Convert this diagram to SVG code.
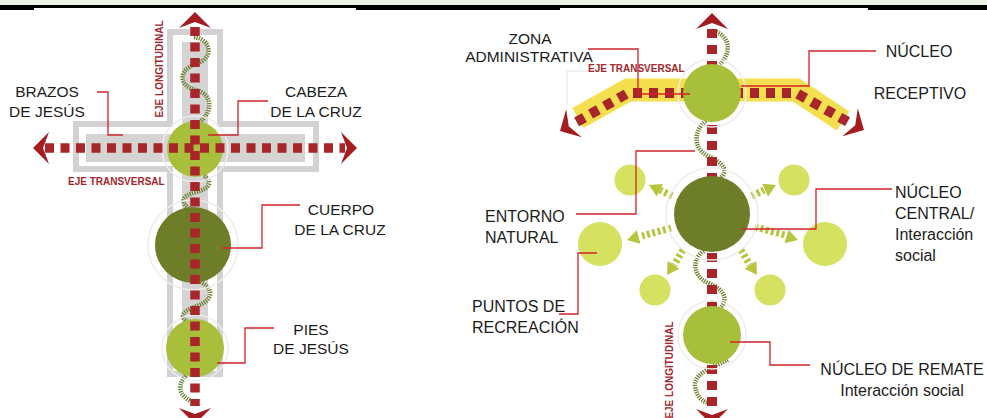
<svg xmlns="http://www.w3.org/2000/svg" width="987" height="418" viewBox="0 0 987 418">
<defs>
<style>
.t{font-family:"Liberation Sans",Arial,sans-serif;fill:#1c1c1c}
.ax{font-family:"Liberation Sans",Arial,sans-serif;font-weight:bold;font-size:10px;fill:#a3282d}
.lead{fill:none;stroke:#d3232b;stroke-width:1.3}
.red{fill:none;stroke:#a8252a;stroke-width:9.5;stroke-dasharray:9 6.5}
.wave{fill:none;stroke:#6d8230;stroke-width:4.5;stroke-dasharray:1.3 1.1}
.halo{fill:none;stroke:#ededed;stroke-width:1.5}
.sat{fill:#d5e160}
.sarr{fill:none;stroke:#b7c53e;stroke-width:7;stroke-dasharray:3 2.5}
.lg{fill:#a8bf3b}
.dk{fill:#6e7d27}
</style>
<path id="ah" d="M0,0 L-16,-16 L-10,0 L-16,16 Z" fill="#a51c20"/>
<path id="sh" d="M0,0 L-12,-7 L-12,7 Z" fill="#b7c53e"/>
</defs>
<rect x="0" y="0" width="987" height="418" fill="#ffffff"/>
<rect x="0" y="0" width="987" height="5" fill="#eef4e4"/>
<rect x="0" y="5" width="987" height="3" fill="#000"/>
<rect x="0" y="8" width="34" height="2" fill="#000"/>
<rect x="356" y="8" width="204" height="2" fill="#000"/>
<rect x="868" y="8" width="119" height="2" fill="#000"/>

<!-- LEFT DIAGRAM -->
<g id="cross-shape">
<polygon points="170,32 220,32 220,124 316,124 316,169 220,169 220,374 170,374 170,169 76,169 76,124 170,124" fill="#fff" stroke="#d2d2d2" stroke-width="6"/>
<polygon points="182,42 208,42 208,134 305,134 305,162 208,162 208,366 182,366 182,162 86,162 86,134 182,134" fill="#d4d4d4"/>
</g>
<g id="left-waves">
<path class="wave" d="M194,37 C212,40 214,58 196,64 C178,70 178,86 196,90 C214,95 212,112 201,121"/>
<path class="wave" d="M204,176 C213,181 210,189 196,192 C180,196 180,204 192,210"/>
<path class="wave" d="M200,282 C214,288 214,300 197,306 C180,312 180,318 188,322"/>
<path class="wave" d="M186,376 C176,386 180,396 191,401"/>
</g>
<g id="cabeza">
<circle class="halo" cx="195" cy="149" r="33"/>
<circle class="lg" cx="195" cy="149" r="28"/>
</g>
<g id="cuerpo">
<circle class="halo" cx="193" cy="245" r="45"/>
<circle class="dk" cx="193" cy="245" r="38"/>
</g>
<g id="pies">
<circle class="halo" cx="195" cy="348" r="33"/>
<circle class="lg" cx="195" cy="348" r="29"/>
</g>
<g id="left-axes">
<path class="red" d="M195,27 L195,406"/>
<path class="red" d="M45,148 L345,148"/>
<use href="#ah" transform="translate(195,12) rotate(-90)"/>
<use href="#ah" transform="translate(195,424) rotate(90)"/>
<use href="#ah" transform="translate(33,148) rotate(180)"/>
<use href="#ah" transform="translate(357,148)"/>
<text class="ax" transform="translate(163,69) rotate(-90)" text-anchor="middle">EJE LONGITUDINAL</text>
<text class="ax" x="68" y="185">EJE TRANSVERSAL</text>
</g>

<!-- RIGHT DIAGRAM -->
<g id="band">
<polyline points="578,118 628,90 796,90 843,121" fill="none" stroke="#f4df4f" stroke-width="23" stroke-linejoin="miter"/>
<path d="M567,105 L567,71 L590,71" fill="none" stroke="#e4e4e4" stroke-width="1"/>
</g>
<g id="right-waves">
<path class="wave" d="M714,31 C730,36 732,52 720,64"/>
<path class="wave" d="M706,121 C694,130 692,148 708,156 C726,164 728,172 720,178"/>
<path class="wave" d="M704,251 C692,258 692,276 708,283 C726,290 728,300 720,308"/>
<path class="wave" d="M728,360 C716,366 694,372 695,386 C696,396 702,401 708,403"/>
</g>
<g id="right-axes">
<path class="red" style="stroke-width:10;stroke-dasharray:9 7" d="M712,29 L712,407"/>
<path class="red" style="stroke-width:10;stroke-dasharray:9 7" d="M690,93 L628,93 L573,124"/>
<path class="red" style="stroke-width:10;stroke-dasharray:9 7" d="M734,93 L796,93 L850,123"/>
<use href="#ah" transform="translate(712,13) rotate(-90)"/>
<use href="#ah" transform="translate(712,425) rotate(90)"/>
<use href="#ah" transform="translate(560,131) rotate(151)"/>
<use href="#ah" transform="translate(864,130) rotate(29)"/>
<text class="ax" transform="translate(673,370) rotate(-90)" text-anchor="middle">EJE LONGITUDINAL</text>
<text class="ax" x="588" y="72">EJE TRANSVERSAL</text>
</g>
<g id="nucleo-receptivo">
<circle class="halo" cx="712" cy="93" r="34"/>
<circle class="lg" cx="712" cy="93" r="29"/>
</g>
<g id="satellite-arrows">
<path class="sarr" d="M672,196 L660,190"/><use href="#sh" transform="translate(649,185) rotate(-154)"/>
<path class="sarr" d="M752,196 L764,190"/><use href="#sh" transform="translate(776,185) rotate(-25)"/>
<path class="sarr" d="M671,228 L642,236"/><use href="#sh" transform="translate(627,240) rotate(165)"/>
<path class="sarr" d="M755,227 L785,235"/><use href="#sh" transform="translate(798,240) rotate(17)"/>
<path class="sarr" d="M683,250 L674,265"/><use href="#sh" transform="translate(667,275) rotate(123)"/>
<path class="sarr" d="M741,250 L750,265"/><use href="#sh" transform="translate(757,275) rotate(57)"/>
</g>
<g id="nucleo-central">
<circle class="halo" cx="712" cy="214" r="46"/>
<circle class="dk" cx="712" cy="214" r="38"/>
</g>
<g id="nucleo-remate">
<circle class="halo" cx="712" cy="335" r="34"/>
<circle class="lg" cx="712" cy="335" r="29"/>
</g>
<g id="puntos-recreacion">
<circle class="sat" cx="630" cy="180" r="15.5"/>
<circle class="sat" cx="794" cy="180" r="15.5"/>
<circle class="sat" cx="600" cy="244" r="22"/>
<circle class="sat" cx="825" cy="244" r="22"/>
<circle class="sat" cx="655" cy="290" r="15.5"/>
<circle class="sat" cx="770" cy="290" r="15.5"/>
</g>

<!-- LEADERS -->
<g id="connectors">
<polyline class="lead" points="97,92 108,92 108,135 123,135"/>
<polyline class="lead" points="268,101 238,101 238,135 208,135"/>
<polyline class="lead" points="300,205 262,205 262,248 222,248"/>
<polyline class="lead" points="274,328 245,328 245,363 217,363"/>
<polyline class="lead" points="588,49 638,49 638,94 690,94"/>
<polyline class="lead" points="876,51 809,51 809,86 741,86"/>
<polyline class="lead" points="576,214 636,214 636,151 695,151"/>
<polyline class="lead" points="892,189 816,189 816,229 742,229"/>
<polyline class="lead" points="597,253 578,253 578,314 559,314"/>
<polyline class="lead" points="730,342 770,342 770,365 810,365"/>
</g>

<!-- LABELS -->
<g id="labels" class="t">
<text font-size="15.5" text-anchor="middle" x="47" y="97">BRAZOS</text>
<text font-size="15.5" text-anchor="middle" x="47" y="117">DE JESÚS</text>
<text font-size="15.5" text-anchor="middle" x="316" y="97">CABEZA</text>
<text font-size="15.5" text-anchor="middle" x="316" y="117">DE LA CRUZ</text>
<text font-size="15.5" text-anchor="middle" x="341" y="215">CUERPO</text>
<text font-size="15.5" text-anchor="middle" x="340" y="235">DE LA CRUZ</text>
<text font-size="15.5" text-anchor="middle" x="311" y="335">PIES</text>
<text font-size="15.5" text-anchor="middle" x="311" y="354">DE JESÚS</text>
<text font-size="15.5" text-anchor="middle" x="530" y="44">ZONA</text>
<text font-size="15.5" text-anchor="middle" x="529" y="62">ADMINISTRATIVA</text>
<text font-size="16" text-anchor="middle" x="919" y="57">NÚCLEO</text>
<text font-size="16" text-anchor="middle" x="920" y="99">RECEPTIVO</text>
<text font-size="16" x="485" y="222">ENTORNO</text>
<text font-size="16" x="485" y="243">NATURAL</text>
<text font-size="16" x="895" y="198">NÚCLEO</text>
<text font-size="16" x="895" y="219">CENTRAL/</text>
<text font-size="16" x="895" y="240">Interacción</text>
<text font-size="16" x="895" y="261">social</text>
<text font-size="16" x="472" y="312">PUNTOS DE</text>
<text font-size="16" x="472" y="333">RECREACIÓN</text>
<text font-size="16" text-anchor="middle" x="902" y="375">NÚCLEO DE REMATE</text>
<text font-size="16" text-anchor="middle" x="902" y="396">Interacción social</text>
</g>
</svg>
